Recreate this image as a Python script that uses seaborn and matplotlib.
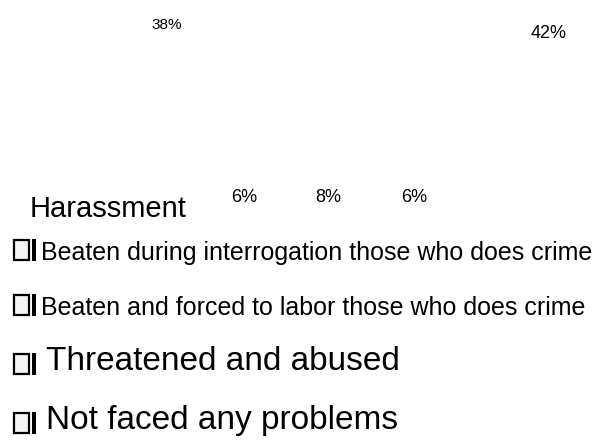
import matplotlib
matplotlib.use("Agg")
import matplotlib.pyplot as plt
from matplotlib.patches import Rectangle
import seaborn as sns
import pandas as pd

# data
categories = ["Harassment",
              "Beaten during interrogation those who does crime",
              "Beaten and forced to labor those who does crime",
              "Threatened and abused",
              "Not faced any problems"]
shares = [38, 6, 8, 6, 42]
value_labels = [f"{v}%" for v in shares]

# layout tweaks so the labels sit where the original put them
label_offset = [(0, 3), (-13, -11.3), (-21, -18), (-28, -11.3), (0, -17.3)]
label_size = [11, 13, 13, 13, 13]
legend_size = [21, 18, 18, 24, 24]
legend_baseline = [217, 260, 315, 370, 429]   # pixels from the top
legend_text_x = [30, 41, 41, 46, 46]

W, H = 603, 441

df = pd.DataFrame({"category": categories, "share": shares})

sns.set_style("white")
plt.rcParams["font.family"] = ["Liberation Sans", "DejaVu Sans"]
plt.rcParams["text.color"] = "black"

fig = plt.figure(figsize=(W / 100, H / 100), dpi=100)
ax = fig.add_axes([0, 1 - 215 / H, 1, 215 / H])

sns.barplot(data=df, x="category", y="share", color="white", ax=ax, width=0.5)
step = 549 - 166.5
ax.set_xlim(-166.5 / (step / 4), (W - 166.5) / (step / 4))
ax.set_ylim(0, 45)
ax.axis("off")

for i, p in enumerate(ax.patches):
    fam = ["Liberation Sans Narrow", "Liberation Sans"] if i == 0 else ["Liberation Sans"]
    ax.annotate(value_labels[i], (p.get_x() + p.get_width() / 2, p.get_height()),
                xytext=label_offset[i], textcoords="offset points", color="black",
                ha="center", va="baseline", fontsize=label_size[i], family=fam)


def fx(x):
    return x / W


def fy(y):
    return 1 - y / H


# legend drawn by hand: the original shows a broken open-square marker + bar
for i, c in enumerate(categories):
    b = legend_baseline[i]
    if i > 0:
        top = b - 21 if legend_size[i] < 20 else b - 17
        fig.patches.append(Rectangle((fx(14), fy(top + 21)), 15 / W, 20 / H,
                                     transform=fig.transFigure, facecolor="#f4f4f4",
                                     edgecolor="black", lw=1.6))
        fig.patches.append(Rectangle((fx(32), fy(top + 22)), 4 / W, 22 / H,
                                     transform=fig.transFigure, facecolor="black",
                                     edgecolor="none"))
    fig.text(fx(legend_text_x[i]), fy(b), c, fontsize=legend_size[i],
             va="baseline", ha="left", color="black")

fig.savefig("out.png", dpi=100)
